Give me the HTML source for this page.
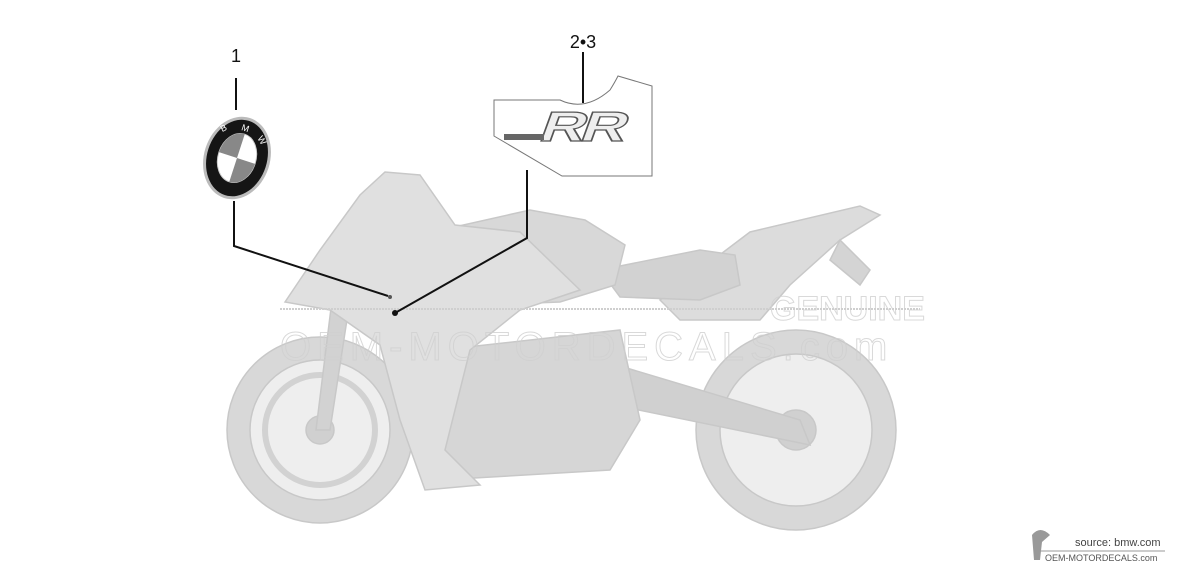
<!DOCTYPE html>
<html><head><meta charset="utf-8"><style>
html,body{margin:0;padding:0;background:#fff;}
svg{display:block;font-family:"Liberation Sans",sans-serif;}
</style></head><body>
<svg width="1200" height="570" viewBox="0 0 1200 570" xmlns="http://www.w3.org/2000/svg">
<g stroke="#c8c8c8" stroke-width="1.5" fill="#dedede">
  <circle cx="796" cy="430" r="100" fill="#d8d8d8"/>
  <circle cx="796" cy="430" r="76" fill="#eeeeee"/>
  <circle cx="796" cy="430" r="20" fill="#d0d0d0"/>
  <circle cx="320" cy="430" r="93" fill="#d8d8d8"/>
  <circle cx="320" cy="430" r="70" fill="#eeeeee"/>
  <circle cx="320" cy="430" r="55" fill="none" stroke="#d2d2d2" stroke-width="6"/>
  <circle cx="320" cy="430" r="14" fill="#d0d0d0"/>
  <path d="M600 360 L800 420 L810 445 L590 400 Z" fill="#d0d0d0"/>
  <path d="M440 350 L620 330 L640 420 L610 470 L440 480 L420 420 Z" fill="#d6d6d6"/>
  <path d="M332 300 L350 300 L330 430 L316 430 Z" fill="#d2d2d2"/>
  <path d="M660 300 L750 232 L860 206 L880 215 L840 240 L790 285 L760 320 L680 320 Z" fill="#dcdcdc"/>
  <path d="M840 240 L870 270 L860 285 L830 260 Z" fill="#d4d4d4"/>
  <path d="M600 270 L700 250 L735 255 L740 285 L700 300 L620 297 Z" fill="#d2d2d2"/>
  <path d="M450 228 L530 210 L585 220 L625 245 L615 285 L560 302 L480 305 Z" fill="#d8d8d8"/>
  <path d="M285 302 L320 250 L360 195 L385 172 L420 175 L455 225 L520 232 L580 290 L520 310 L470 350 L445 450 L480 485 L425 490 L400 420 L380 345 L330 310 Z" fill="#e0e0e0"/>
</g>
<g opacity="0.8">
  <text x="770" y="320" font-size="34" font-weight="bold" fill="none" stroke="#d0d0d0">GENUINE</text>
  <text x="280" y="360" font-size="40" fill="none" stroke="#d0d0d0" letter-spacing="6">OEM-MOTORDECALS.com</text>
</g>
<line x1="280" y1="309" x2="920" y2="309" stroke="#cfcfcf" stroke-width="2" stroke-dasharray="2 1"/>
<text x="236" y="62" font-size="18" text-anchor="middle" fill="#111">1</text>
<text x="583" y="48" font-size="18" text-anchor="middle" fill="#111">2•3</text>
<g stroke="#111" stroke-width="2" fill="none">
  <line x1="236" y1="78" x2="236" y2="110"/>
  <polyline points="234,201 234,246 388,296"/>
  <line x1="583" y1="52" x2="583" y2="103"/>
  <polyline points="527,170 527,238 395,313"/>
</g>
<circle cx="395" cy="313" r="3" fill="#111"/>
<circle cx="390" cy="297" r="2" fill="#555"/>
<path d="M494 100 L560 100 Q585 112 610 90 Q615 82 618 76 L652 86 L652 176 L562 176 L494 136 Z" fill="#fff" stroke="#777" stroke-width="1"/>
<g transform="translate(578,141) skewX(-20) scale(1.5,1)">
  <text x="0" y="0" font-size="42" font-weight="bold" text-anchor="middle" fill="#eeeeee" stroke="#555" stroke-width="1.2" letter-spacing="-3">RR</text>
</g>
<rect x="504" y="134" width="40" height="6" fill="#666"/>
<g transform="translate(237,158) rotate(18)">
  <ellipse cx="0" cy="0" rx="33" ry="42" fill="#bbb"/>
  <ellipse cx="0" cy="0" rx="30" ry="39" fill="#151515"/>
  <ellipse cx="0" cy="0" rx="19" ry="25" fill="#fff" stroke="#ccc"/>
  <path d="M0 0 L0 -25 A19 25 0 0 0 -19 0 Z" fill="#888"/>
  <path d="M0 0 L0 25 A19 25 0 0 0 19 0 Z" fill="#888"/>
  <text x="-22" y="-20" font-size="9" fill="#fff" transform="rotate(-45 -22 -20)">B</text>
  <text x="-5" y="-28" font-size="9" fill="#fff">M</text>
  <text x="13" y="-25" font-size="9" fill="#fff" transform="rotate(40 13 -25)">W</text>
</g>
<path d="M1032 535 Q1040 525 1050 535 L1042 542 L1040 560 L1034 560 Z" fill="#999"/>
<text x="1075" y="546" font-size="11" fill="#444">source: bmw.com</text>
<line x1="1040" y1="551" x2="1165" y2="551" stroke="#999" stroke-width="1"/>
<text x="1045" y="561" font-size="9" fill="#555">OEM-MOTORDECALS.com</text>
</svg>
</body></html>
